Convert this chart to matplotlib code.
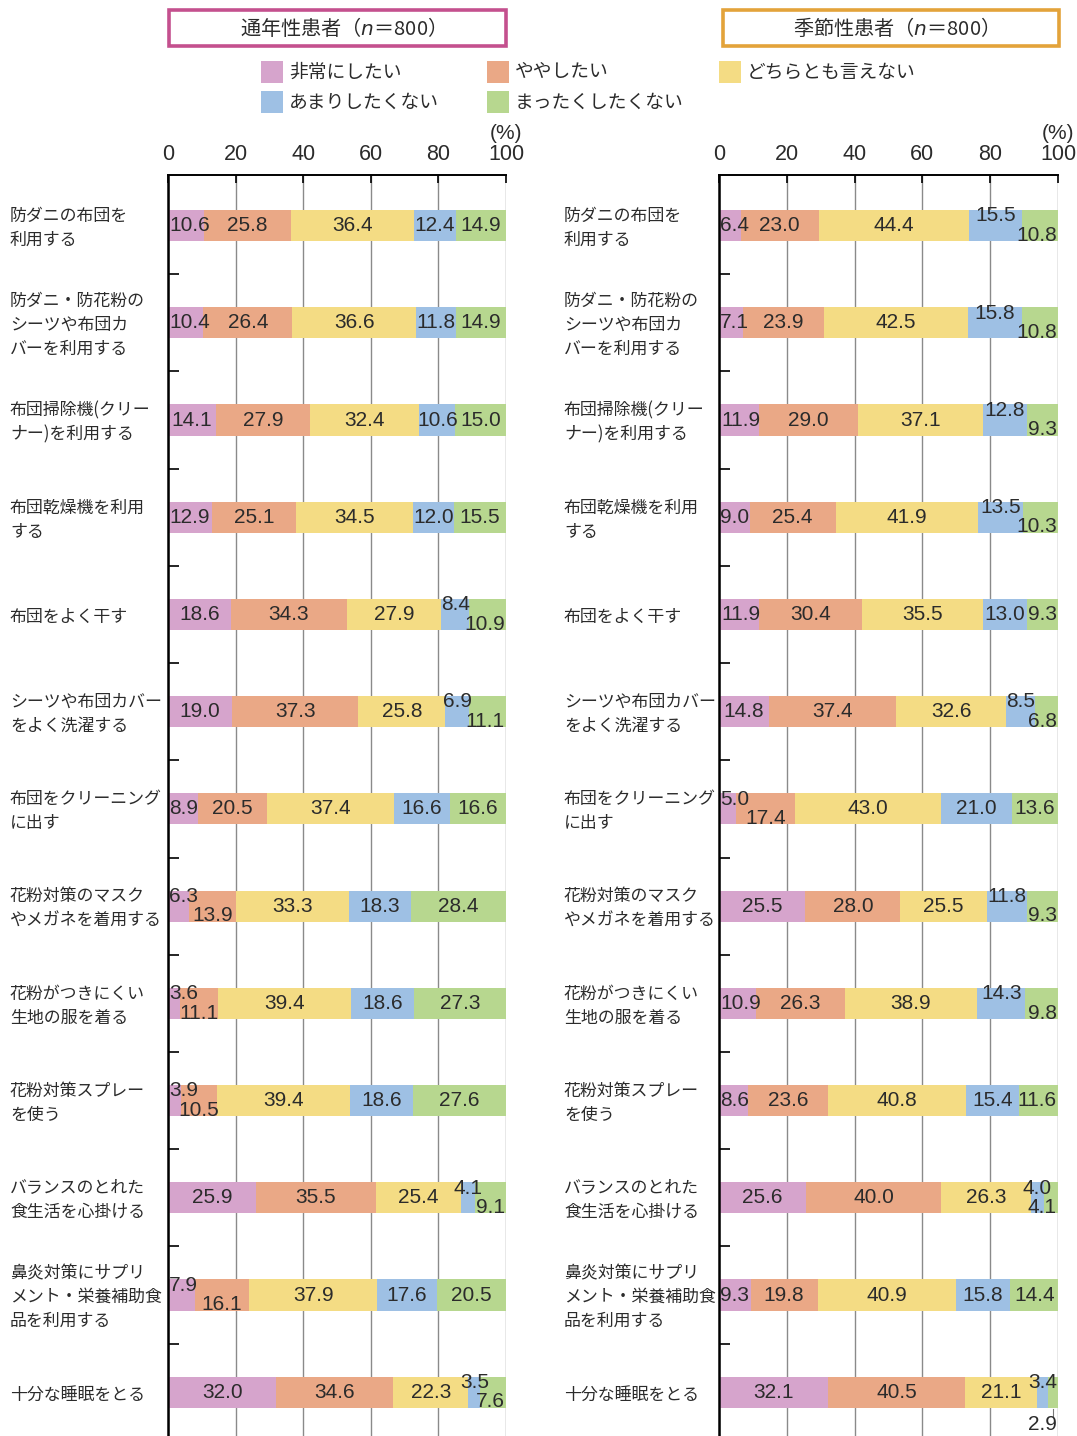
import matplotlib
matplotlib.use("Agg")
import matplotlib.pyplot as plt
import matplotlib.patches as mpatches
from matplotlib import font_manager

# --- data -------------------------------------------------------------
categories = [
    "防ダニの布団を\n利用する",
    "防ダニ・防花粉の\nシーツや布団カ\nバーを利用する",
    "布団掃除機(クリー\nナー)を利用する",
    "布団乾燥機を利用\nする",
    "布団をよく干す",
    "シーツや布団カバー\nをよく洗濯する",
    "布団をクリーニング\nに出す",
    "花粉対策のマスク\nやメガネを着用する",
    "花粉がつきにくい\n生地の服を着る",
    "花粉対策スプレー\nを使う",
    "バランスのとれた\n食生活を心掛ける",
    "鼻炎対策にサプリ\nメント・栄養補助食\n品を利用する",
    "十分な睡眠をとる",
]

answers = ["非常にしたい", "ややしたい", "どちらとも言えない",
           "あまりしたくない", "まったくしたくない"]

# 通年性患者 (n=800)
perennial_very = [10.6, 10.4, 14.1, 12.9, 18.6, 19.0, 8.9, 6.3, 3.6, 3.9, 25.9, 7.9, 32.0]
perennial_some = [25.8, 26.4, 27.9, 25.1, 34.3, 37.3, 20.5, 13.9, 11.1, 10.5, 35.5, 16.1, 34.6]
perennial_neutral = [36.4, 36.6, 32.4, 34.5, 27.9, 25.8, 37.4, 33.3, 39.4, 39.4, 25.4, 37.9, 22.3]
perennial_little = [12.4, 11.8, 10.6, 12.0, 8.4, 6.9, 16.6, 18.3, 18.6, 18.6, 4.1, 17.6, 3.5]
perennial_none = [14.9, 14.9, 15.0, 15.5, 10.9, 11.1, 16.6, 28.4, 27.3, 27.6, 9.1, 20.5, 7.6]

# 季節性患者 (n=800)
seasonal_very = [6.4, 7.1, 11.9, 9.0, 11.9, 14.8, 5.0, 25.5, 10.9, 8.6, 25.6, 9.3, 32.1]
seasonal_some = [23.0, 23.9, 29.0, 25.4, 30.4, 37.4, 17.4, 28.0, 26.3, 23.6, 40.0, 19.8, 40.5]
seasonal_neutral = [44.4, 42.5, 37.1, 41.9, 35.5, 32.6, 43.0, 25.5, 38.9, 40.8, 26.3, 40.9, 21.1]
seasonal_little = [15.5, 15.8, 12.8, 13.5, 13.0, 8.5, 21.0, 11.8, 14.3, 15.4, 4.0, 15.8, 3.4]
seasonal_none = [10.8, 10.8, 9.3, 10.3, 9.3, 6.8, 13.6, 9.3, 9.8, 11.6, 4.1, 14.4, 2.9]

# --- style --------------------------------------------------------------
colors = ["#d6a4cc", "#eaa886", "#f4dc84", "#9ec0e4", "#b7d78f"]
text_color = "#2b2b2b"

available = {f.name for f in font_manager.fontManager.ttflist}
num_font = [f for f in ["Liberation Sans", "DejaVu Sans"] if f in available]
jp_font = ["Noto Sans CJK JP", "DejaVu Sans"]
plt.rcParams["font.family"] = jp_font

# rows where two narrow neighbours are split: {row: index of upper label}
stagger_left = {4: 3, 5: 3, 7: 0, 8: 0, 9: 0, 10: 3, 11: 0, 12: 3}
stagger_right = {0: 3, 1: 3, 2: 3, 3: 3, 5: 3, 6: 0, 7: 3, 8: 3, 10: 3, 12: 3}
# labels moved below the bar with a leader line: {row: segment index}
below_right = {12: 4}

W, H = 1077, 1436
fig = plt.figure(figsize=(W / 100, H / 100), dpi=100)

VAL_FS = 15


def half_width(s):
    # rough half width of a value label in percent units (digit ~3.4, dot ~1.7)
    return (3.45 * (len(s) - 1) + 1.7) / 2


def draw_panel(ax, series, stagger, below):
    n = len(categories)
    rows = list(range(n))
    left = [0.0] * n
    ax.set_axisbelow(True)
    for k, vals in enumerate(series):
        ax.barh(rows, vals, left=left, height=0.32, color=colors[k], linewidth=0)
        for i, v in enumerate(vals):
            s = f"{v:.1f}"
            x0, x1 = left[i], left[i] + v
            hw = half_width(s)
            xc = min(max((x0 + x1) / 2, hw + 0.3), 100 - hw - 0.3)
            y = i
            if below.get(i) == k:
                xm = (x0 + x1) / 2
                ax.plot([xm, xm], [i + 0.17, i + 0.24], color="#777777", lw=0.8)
                ax.text(99.7, i + 0.33, s, ha="right", va="center", fontsize=VAL_FS,
                        family=num_font, color=text_color)
                continue
            if i in stagger:
                if k == stagger[i]:
                    y = i - 0.1
                elif k == stagger[i] + 1:
                    y = i + 0.1
            ax.text(xc, y, s, ha="center", va="center", fontsize=VAL_FS,
                    family=num_font, color=text_color)
        left = [a + b for a, b in zip(left, vals)]

    ax.set_xlim(0, 100)
    ax.set_ylim(n - 0.55, -0.52)
    ax.xaxis.tick_top()
    ax.set_xticks([0, 20, 40, 60, 80, 100])
    ax.set_xticklabels(["0", "20", "40", "60", "80", "100"], family=num_font,
                       fontsize=15.5, color=text_color)
    ax.tick_params(axis="x", direction="in", length=6, width=1.2, pad=7)
    ax.grid(axis="x", color="#8a8a8a", linewidth=1.0)
    ax.set_yticks([i + 0.5 for i in range(n - 1)])
    ax.set_yticklabels([])
    ax.tick_params(axis="y", direction="in", length=8, width=1.2)
    for side in ["right", "bottom"]:
        ax.spines[side].set_visible(False)
    ax.spines["left"].set_linewidth(1.8)
    ax.spines["top"].set_linewidth(1.4)
    ax.annotate("(%)", xy=(100, 1), xycoords=("data", "axes fraction"),
                xytext=(0, 23), textcoords="offset points", ha="center", va="bottom",
                fontsize=15, family=num_font, color=text_color)


def draw_labels(x_px, top_px, row_px):
    for i, lab in enumerate(categories):
        fig.text(x_px / W, 1 - (top_px + i * row_px) / H, lab, ha="left", va="center",
                 fontsize=12.2, linespacing=1.42, color=text_color)


ax_l = fig.add_axes([168 / W, 0, 338 / W, 1 - 175 / H])
ax_r = fig.add_axes([719 / W, 0, 339 / W, 1 - 175 / H])

draw_panel(ax_l, [perennial_very, perennial_some, perennial_neutral, perennial_little,
                  perennial_none], stagger_left, {})
draw_panel(ax_r, [seasonal_very, seasonal_some, seasonal_neutral, seasonal_little,
                  seasonal_none], stagger_right, below_right)

draw_labels(10, 228, 97.2)
draw_labels(564, 228, 97.2)

# panel headers
for (x0, x1, col, title) in [(169, 506, "#c4508e", "通年性患者（$n$＝800）"),
                             (723, 1059, "#e3a33a", "季節性患者（$n$＝800）")]:
    fig.patches.append(mpatches.Rectangle((x0 / W, 1 - 46 / H), (x1 - x0) / W, 36 / H,
                                          transform=fig.transFigure, fill=False,
                                          edgecolor=col, linewidth=2.6))
    fig.text((x0 + x1) / 2 / W, 1 - 28 / H, title, ha="center", va="center",
             fontsize=14.5, color=text_color)

# legend
legend_pos = [(261, 72), (487, 72), (719, 72), (261, 102), (487, 102)]
for (lx, ly), lab, col in zip(legend_pos, answers, colors):
    fig.patches.append(mpatches.Rectangle((lx / W, 1 - (ly + 11) / H), 22 / W, 22 / H,
                                          transform=fig.transFigure, facecolor=col,
                                          edgecolor="none"))
    fig.text((lx + 28) / W, 1 - ly / H, lab, ha="left", va="center", fontsize=13.5,
             color=text_color)

fig.savefig("out.png", dpi=100)
